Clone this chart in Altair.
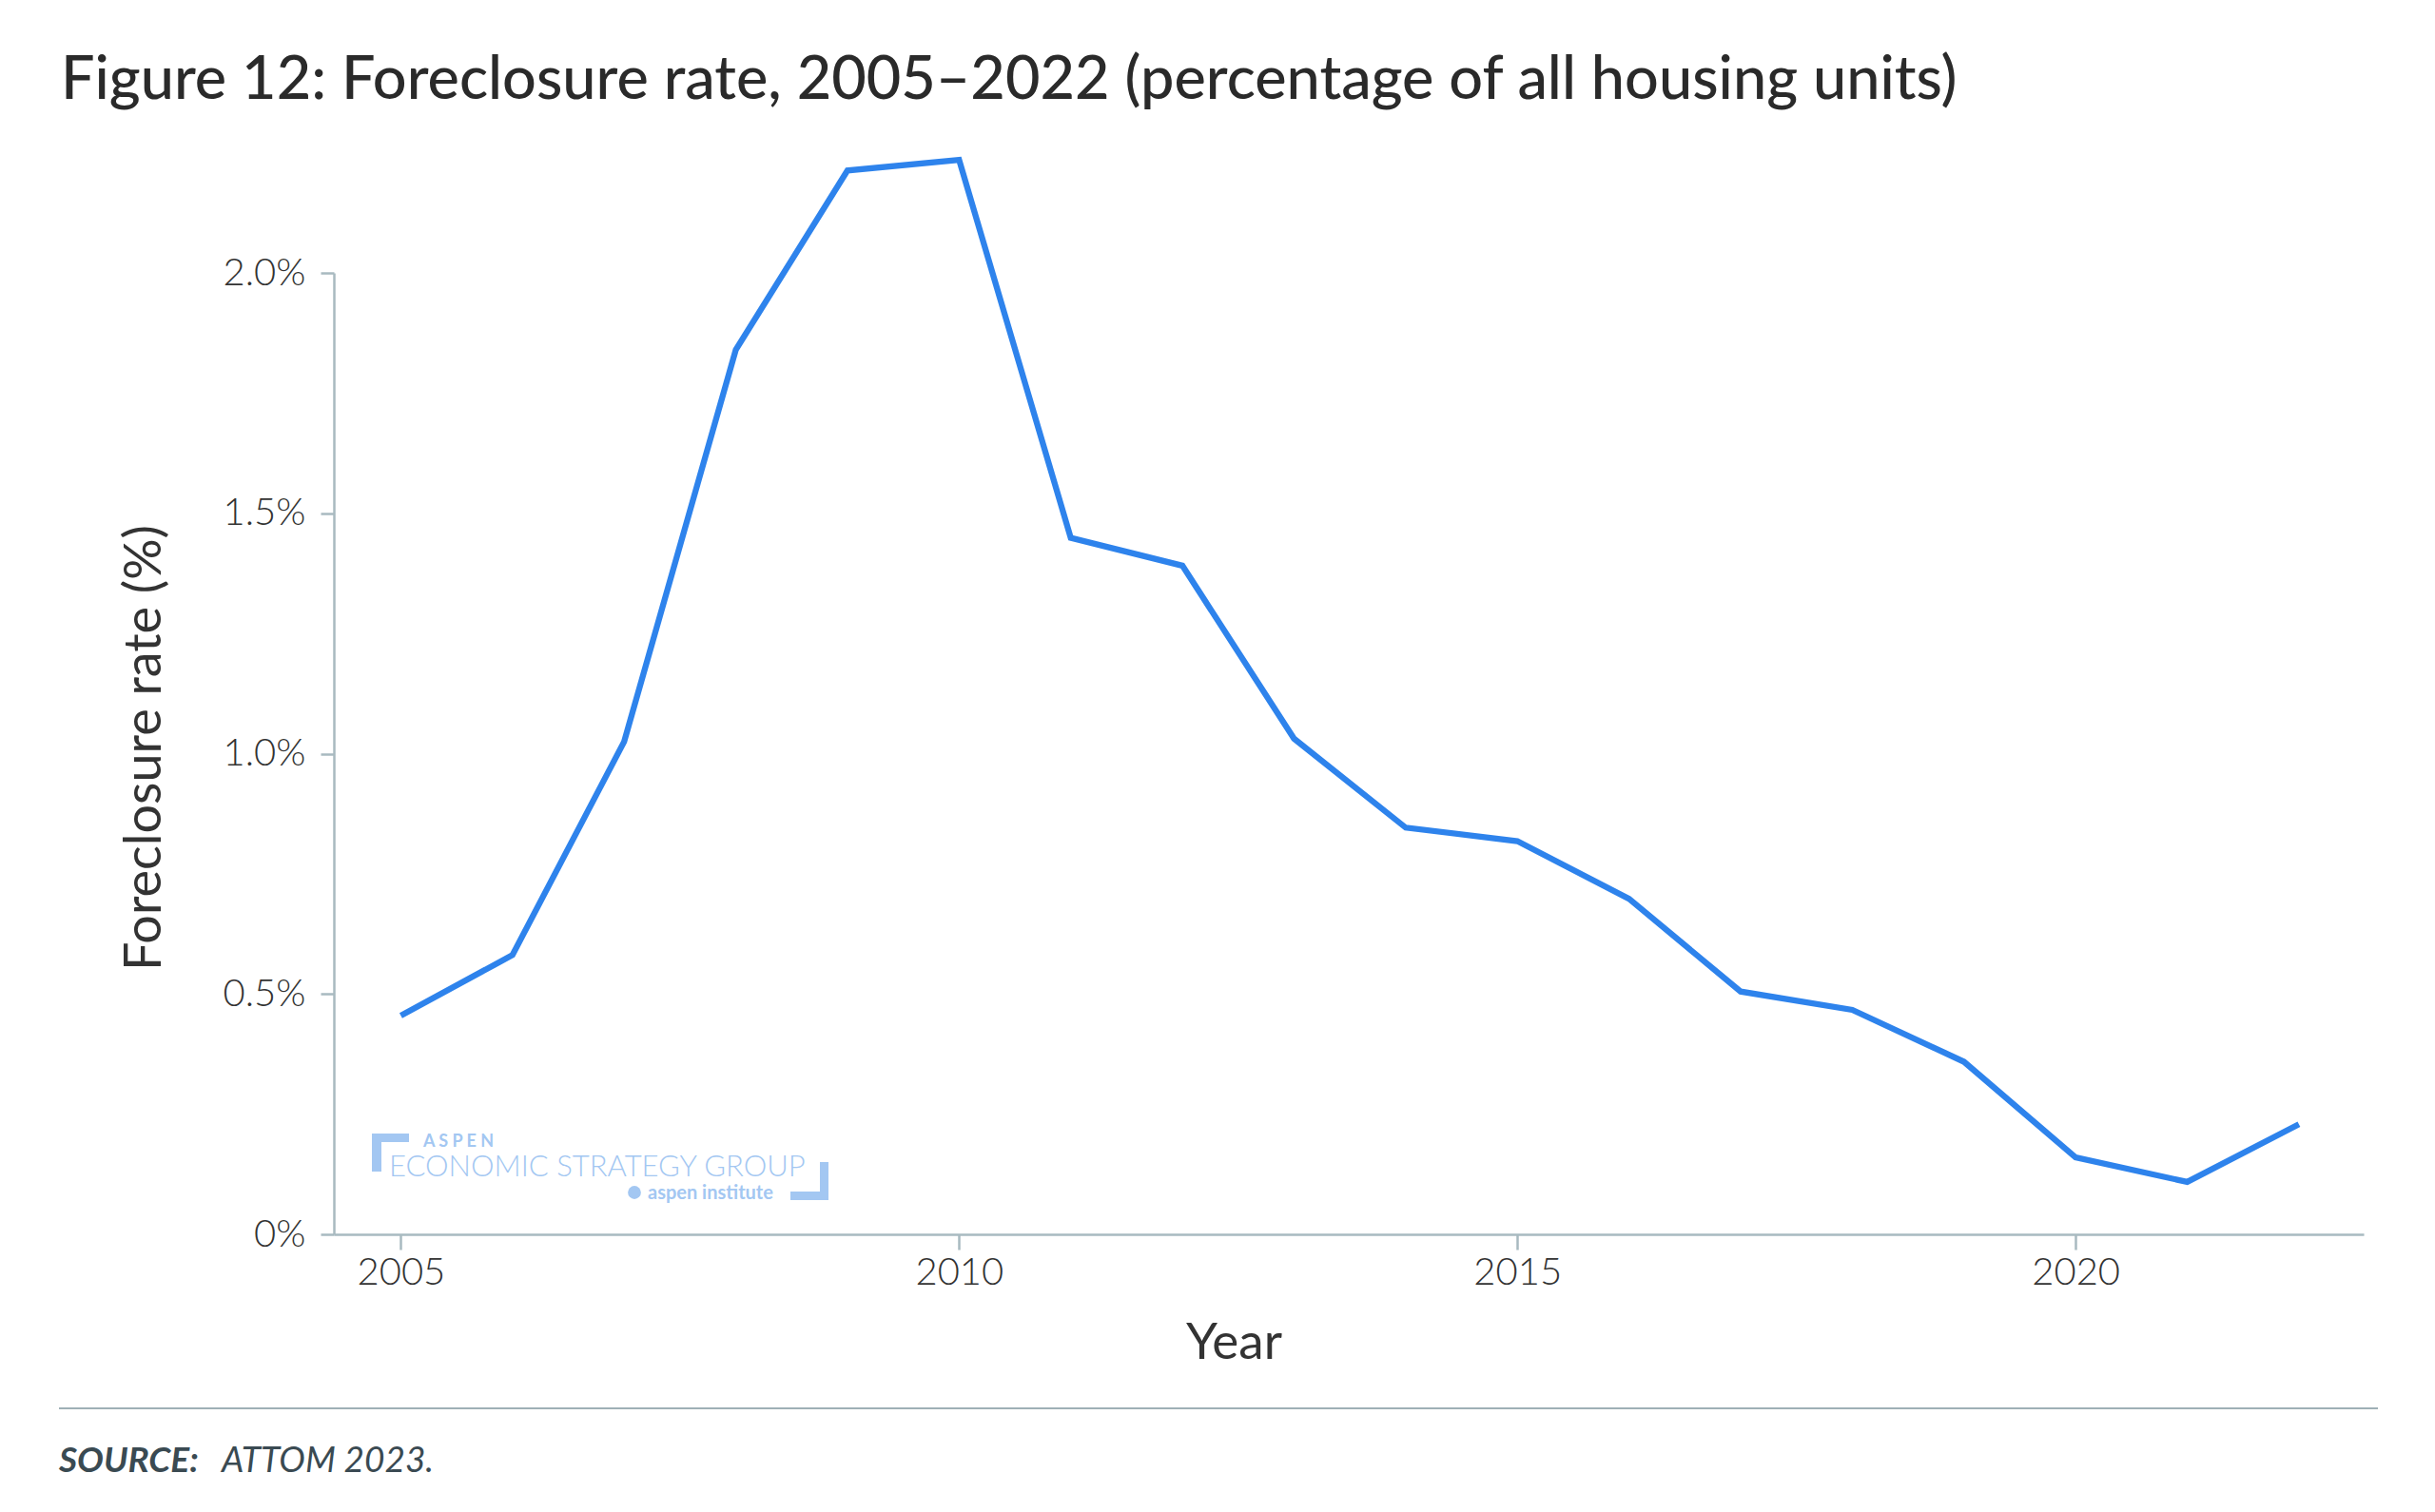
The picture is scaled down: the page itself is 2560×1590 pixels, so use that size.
import altair as alt
import pandas as pd

# ---- data ----
years = list(range(2005, 2023))
rates = [0.455, 0.581, 1.025, 1.840, 2.213, 2.235, 1.449, 1.391, 1.031,
         0.846, 0.818, 0.698, 0.505, 0.467, 0.359, 0.160, 0.109, 0.229]
x_ticks = [2005, 2010, 2015, 2020]
y_ticks = [0, 0.5, 1.0, 1.5, 2.0]

TITLE = "Figure 12: Foreclosure rate, 2005\u20132022 (percentage of all housing units)"
SOURCE_BOLD = "SOURCE:"
SOURCE_REST = "ATTOM 2023."

df = pd.DataFrame({"year": years, "rate": rates})
one = pd.DataFrame({"k": [0]})

FONT = "Lato"
AXIS_COL = "#a8bac0"
TEXT_COL = "#333333"
LOGO_COL = "#a3c7f2"
W, H = 2134, 1011

line = alt.Chart(df).mark_line(color="#2e83ec", strokeWidth=6.3).encode(
    x=alt.X("year:Q",
            scale=alt.Scale(domain=[2004.4, 2022.58], nice=False, zero=False),
            axis=alt.Axis(values=x_ticks, format="d", grid=False,
                          domainColor=AXIS_COL, domainWidth=2.5,
                          tickColor=AXIS_COL, tickWidth=2.5, tickSize=16,
                          labelFont=FONT, labelFontSize=40, labelFontWeight=300,
                          labelColor=TEXT_COL, labelPadding=4,
                          title="Year", titleFont=FONT, titleFontSize=53,
                          titleFontWeight=400, titleColor=TEXT_COL,
                          titleX=946, titleY=130, titleAlign="center",
                          titleBaseline="alphabetic")),
    y=alt.Y("rate:Q",
            scale=alt.Scale(domain=[0, 2.0], nice=False),
            axis=alt.Axis(values=y_ticks, grid=False,
                          labelExpr="datum.value == 0 ? '0%' : format(datum.value, '.1f') + '%'",
                          domainColor=AXIS_COL, domainWidth=2.5,
                          tickColor=AXIS_COL, tickWidth=2.5, tickSize=14,
                          labelFont=FONT, labelFontSize=40, labelFontWeight=300,
                          labelColor=TEXT_COL, labelPadding=16,
                          title="Foreclosure rate (%)", titleFont=FONT,
                          titleFontSize=54, titleFontWeight=400, titleColor=TEXT_COL,
                          titleAngle=270, titleX=-183, titleY=499,
                          titleAlign="center", titleBaseline="alphabetic")),
)

def txt(text, x, y, size, color, weight=400, style="normal", align="left"):
    return alt.Chart(one).mark_text(
        align=align, baseline="alphabetic", font=FONT, fontSize=size,
        fontWeight=weight, fontStyle=style, color=color,
    ).encode(x=alt.value(x), y=alt.value(y), text=alt.value(text))

def rect(x, x2, y, y2, color):
    return alt.Chart(one).mark_rect(color=color).encode(
        x=alt.value(x), x2=alt.value(x2), y=alt.value(y), y2=alt.value(y2))

title = txt(TITLE, -287, -183, 63, "#2a2a2a", weight=500)
sep = alt.Chart(one).mark_rule(color="#9fb0b6", strokeWidth=2).encode(
    x=alt.value(-289), x2=alt.value(2149), y=alt.value(1194))
src1 = txt(SOURCE_BOLD, -289, 1261, 37, "#3a4a52", weight=700, style="italic")
src2 = txt(SOURCE_REST, -118, 1261, 37, "#3a4a52", weight=400, style="italic")

# logo
logo = [
    rect(40, 50, 905, 945, LOGO_COL),
    rect(40, 79, 905, 914, LOGO_COL),
    rect(480, 520, 966, 975, LOGO_COL),
    rect(511, 520, 935, 975, LOGO_COL),
    txt("A S P E N", 94, 919, 18, LOGO_COL, weight=700),
    txt("ECONOMIC STRATEGY GROUP", 58, 950, 31, LOGO_COL, weight=300),
    txt("aspen institute", 330, 974, 20, LOGO_COL, weight=700),
    alt.Chart(one).mark_point(filled=True, shape="circle", color=LOGO_COL,
                              size=190, opacity=1).encode(
        x=alt.value(316), y=alt.value(967)),
]

chart = alt.layer(line, title, sep, src1, src2, *logo).properties(
    width=W, height=H,
    autosize=alt.AutoSizeParams(type="none"),
    padding={"left": 343, "top": 279, "right": 60, "bottom": 270},
    background="white",
).configure_view(strokeWidth=0)

chart.save("out.html", embed_options={"renderer": "svg", "actions": False})
